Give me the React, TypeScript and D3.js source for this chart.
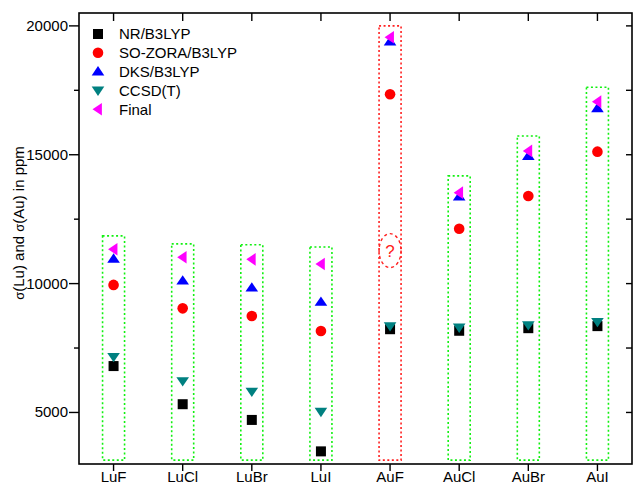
import React from "react";
import * as d3 from "d3";

const categories = ["LuF", "LuCl", "LuBr", "LuI", "AuF", "AuCl", "AuBr", "AuI"];
const nrB3lyp = [6800, 5320, 4710, 3490, 8230, 8170, 8270, 8350];
const soZoraB3lyp = [9950, 9040, 8740, 8160, 17350, 12130, 13400, 15120];
const dksB3lyp = [10960, 10110, 9840, 9290, 19390, 13370, 14950, 16800];
const ccsdT = [7160, 6220, 5810, 5030, 8350, 8300, 8390, 8520];
const finalValues = [11330, 11020, 10940, 10760, 19560, 13530, 15150, 17060];
const boxTops = [11850, 11540, 11510, 11420, 20000, 14180, 15730, 17620];
const boxBottom = 3150;
const boxColors = ["green", "green", "green", "green", "red", "green", "green", "green"];
const questionValue = 11280;
const yMajorTicks = [5000, 10000, 15000, 20000];
const yMinorTicks = [7500, 12500, 17500];
const seriesNames = ["NR/B3LYP", "SO-ZORA/B3LYP", "DKS/B3LYP", "CCSD(T)", "Final"];

const W = 633, H = 485;
const left = 79, right = 632, top = 13, bottom = 464;
const font = "Arial, 'Liberation Sans', sans-serif";
const fs = 15;

const x = d3.scaleLinear().domain([-0.5, categories.length - 0.5]).range([left, right]);
const y = d3.scaleLinear().domain([3000, 20500]).range([bottom, top]);

type Kind = "square" | "circle" | "up" | "down" | "left";
const colors: Record<Kind, string> = {
  square: "#000000",
  circle: "#ff0000",
  up: "#0000ff",
  down: "#008080",
  left: "#ff00ff",
};

function Marker({ kind, cx, cy }: { kind: Kind; cx: number; cy: number }) {
  const c = colors[kind];
  const s = 5.5;
  if (kind === "square") return <rect x={cx - 5} y={cy - 5} width={10} height={10} fill={c} />;
  if (kind === "circle") return <circle cx={cx} cy={cy} r={5.3} fill={c} />;
  let pts: [number, number][];
  if (kind === "up") pts = [[cx, cy - s], [cx - 6.3, cy + s * 0.7], [cx + 6.3, cy + s * 0.7]];
  else if (kind === "down") pts = [[cx, cy + s], [cx - 6.3, cy - s * 0.7], [cx + 6.3, cy - s * 0.7]];
  else pts = [[cx - s, cy], [cx + s * 0.7, cy - 6.3], [cx + s * 0.7, cy + 6.3]];
  return <polygon points={pts.map((p) => p.join(",")).join(" ")} fill={c} />;
}

export default function App() {
  const series: { kind: Kind; vals: number[] }[] = [
    { kind: "square", vals: nrB3lyp },
    { kind: "circle", vals: soZoraB3lyp },
    { kind: "up", vals: dksB3lyp },
    { kind: "down", vals: ccsdT },
    { kind: "left", vals: finalValues },
  ];
  const legendKinds: Kind[] = ["square", "circle", "up", "down", "left"];
  return (
    <svg width={W} height={H} style={{ position: "absolute", left: 0, top: 0 }} fontFamily={font}>
      <rect width={W} height={H} fill="#fff" />
      {categories.map((c, i) => {
        const cx = x(i);
        return (
          <rect
            key={"b" + c}
            x={cx - 11}
            y={y(boxTops[i])}
            width={22}
            height={y(boxBottom) - y(boxTops[i])}
            fill="none"
            stroke={boxColors[i] === "red" ? "#ff2020" : "#11f011"}
            strokeWidth={1.6}
            strokeDasharray="2,2.5"
          />
        );
      })}
      <ellipse cx={x(4)} cy={y(questionValue)} rx={11} ry={17} fill="none" stroke="#ff2020" strokeWidth={1.4} strokeDasharray="3,3" />
      <text x={x(4)} y={y(questionValue) + 6} textAnchor="middle" fontSize={17} fill="#ff2020">?</text>
      <rect x={left} y={top} width={right - left} height={bottom - top} fill="none" stroke="#000" strokeWidth={1.6} />
      {categories.map((c, i) => (
        <g key={"x" + c}>
          <line x1={x(i)} x2={x(i)} y1={bottom} y2={bottom + 7} stroke="#000" strokeWidth={1.4} />
          <line x1={x(i)} x2={x(i)} y1={top} y2={top + 8} stroke="#000" strokeWidth={1.4} />
          <text x={x(i)} y={482} textAnchor="middle" fontSize={fs} fill="#000">{c}</text>
        </g>
      ))}
      {yMajorTicks.map((t) => (
        <g key={"y" + t}>
          <line x1={left - 10} x2={left} y1={y(t)} y2={y(t)} stroke="#000" strokeWidth={1.4} />
          <line x1={right - 6} x2={right} y1={y(t)} y2={y(t)} stroke="#000" strokeWidth={1.4} />
          <text x={68} y={y(t) + 5} textAnchor="end" fontSize={fs} fill="#000">{t}</text>
        </g>
      ))}
      {yMinorTicks.map((t) => (
        <g key={"m" + t}>
          <line x1={left - 5} x2={left} y1={y(t)} y2={y(t)} stroke="#000" strokeWidth={1.4} />
          <line x1={right - 6} x2={right} y1={y(t)} y2={y(t)} stroke="#000" strokeWidth={1.4} />
        </g>
      ))}
      <text transform={`translate(24,223) rotate(-90)`} textAnchor="middle" fontSize={fs} fill="#000">
        <tspan fontSize={13}>σ</tspan>(Lu) and <tspan fontSize={13}>σ</tspan>(Au) in ppm
      </text>
      {series.map((s) =>
        s.vals.map((v, i) => <Marker key={s.kind + i} kind={s.kind} cx={x(i)} cy={y(v)} />)
      )}
      {seriesNames.map((n, i) => (
        <g key={"l" + n}>
          <Marker kind={legendKinds[i]} cx={98} cy={34 + i * 18.8} />
          <text x={119} y={34 + i * 18.8 + 5.3} fontSize={fs} fill="#000">{n}</text>
        </g>
      ))}
    </svg>
  );
}
